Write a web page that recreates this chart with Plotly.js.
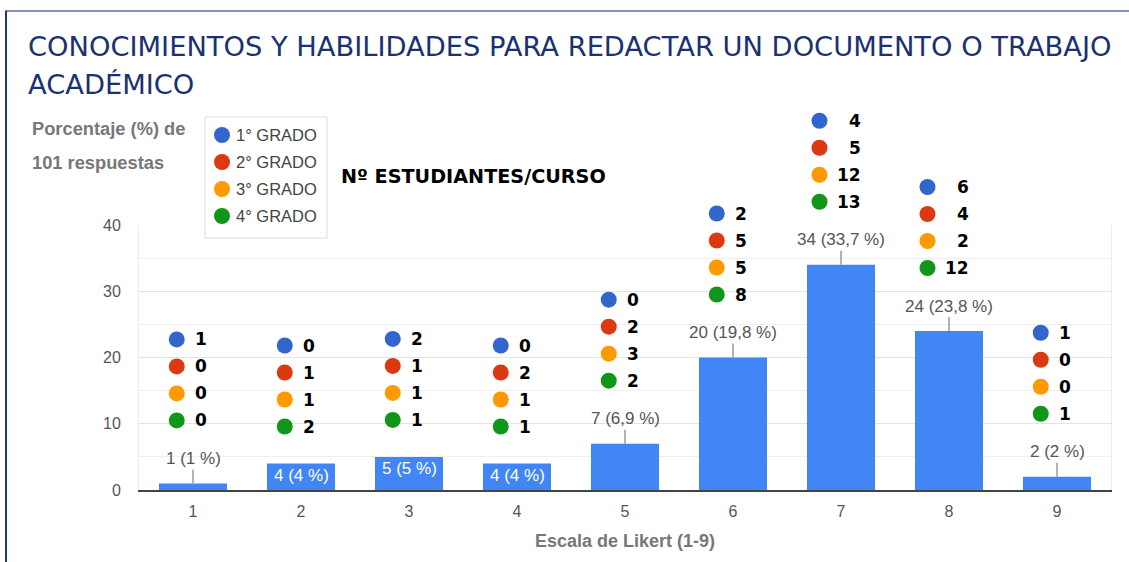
<!DOCTYPE html>
<html>
<head>
<meta charset="utf-8">
<script src="https://cdn.plot.ly/plotly-3.0.1.min.js"></script>
<style>html,body{margin:0;padding:0;background:#fff;}#chart{width:1129px;height:562px;}</style>
</head>
<body>
<div id="chart"></div>
<script>
// ---- data ----
const categories = [1, 2, 3, 4, 5, 6, 7, 8, 9];
const counts = [1, 4, 5, 4, 7, 20, 34, 24, 2];
const percents = [1, 4, 5, 4, 6.9, 19.8, 33.7, 23.8, 2];
const grades = ['1° GRADO', '2° GRADO', '3° GRADO', '4° GRADO'];
const grade1 = [1, 0, 2, 0, 0, 2, 4, 6, 1];
const grade2 = [0, 1, 1, 2, 2, 5, 5, 4, 0];
const grade3 = [0, 1, 1, 1, 3, 5, 12, 2, 0];
const grade4 = [0, 2, 1, 1, 2, 8, 13, 12, 1];
const yTicks = [0, 10, 20, 30, 40];
const titleLines = ['CONOCIMIENTOS Y HABILIDADES PARA REDACTAR UN DOCUMENTO O TRABAJO', 'ACADÉMICO'];
const yTitleLines = ['Porcentaje (%) de', '101 respuestas'];
const xTitle = 'Escala de Likert (1-9)';
const groupTitle = 'Nº ESTUDIANTES/CURSO';

// ---- style ----
const W = 1129, H = 562;
const M = {l: 139, r: 18, t: 11, b: 72};
const PW = W - M.l - M.r, PH = H - M.t - M.b;   // paper area
const BAR_H = 265;                               // pixel height of the bar plot area
const YMAX = 40;
const YMAX2 = YMAX * PH / BAR_H;                 // overlay axis spanning whole paper, same scale
const gradeColors = ['#3366cc', '#dc3912', '#ff9900', '#109618'];
const insideLabel = [false, true, true, true, false, false, false, false, false];
const gradeSeries = [grade1, grade2, grade3, grade4];
const px2x = px => (px - M.l) / PW;          // pixel -> paper x
const px2y = py => (H - M.b - py) / PH;      // pixel -> paper y
const unitX = 9 / PW;                         // data per pixel (x)
const unitY = YMAX / BAR_H;                   // data per pixel (y)
const fmt = v => String(v).replace('.', ',');
const LAB = 'Liberation Sans, Arial, sans-serif';

const traces = [];
traces.push({
  type: 'bar', x: categories, y: counts, width: 0.63,
  marker: {color: '#4285f4'}, hoverinfo: 'skip', showlegend: false
});

const annotations = [];
const shapes = [];

// bar labels
categories.forEach((c, i) => {
  const txt = counts[i] + ' (' + fmt(percents[i]) + ' %)';
  if (insideLabel[i]) {
    annotations.push({x: c, y: counts[i], xref: 'x', yref: 'y', text: txt, showarrow: false,
      yanchor: 'top', yshift: -1, borderpad: 0,
      font: {family: LAB, size: 17, color: '#ffffff'}});
  } else {
    annotations.push({x: c, y: counts[i], xref: 'x', yref: 'y', text: txt, showarrow: true,
      arrowhead: 0, ax: 0, ay: -25, arrowcolor: '#9a9a9a', arrowwidth: 1.5, standoff: 0,
      font: {family: LAB, size: 17, color: '#555555'}});
  }
});

// per-grade dot groups
const dotX = [], dotY = [[], [], [], []];
categories.forEach((c, i) => {
  const vals = gradeSeries.map(s => s[i]);
  const len = Math.max(...vals.map(v => String(v).length));
  const gw = 28 + 10.5 * len;
  const dx = -5 - gw / 2 + 8;                // dot centre offset from bar centre (px)
  const base = insideLabel[i] ? 37 : 63;     // lowest dot above bar top (px)
  dotX.push(c + dx * unitX);
  vals.forEach((v, g) => {
    const dy = base + (3 - g) * 27;
    dotY[g].push(counts[i] + dy * unitY);
    annotations.push({x: c, y: counts[i], xref: 'x', yref: 'y', text: String(v), showarrow: false,
      xanchor: 'right', yanchor: 'middle', xshift: dx + 21 + 10.5 * len, yshift: dy, borderpad: 0,
      font: {family: 'DejaVu Sans', size: 17, color: '#000000', weight: 'bold'}});
  });
});
gradeSeries.forEach((s, g) => {
  traces.push({type: 'scatter', mode: 'markers', x: dotX, y: dotY[g], yaxis: 'y2', cliponaxis: false,
    marker: {color: gradeColors[g], size: 16, line: {width: 0}}, hoverinfo: 'skip', showlegend: false, name: grades[g]});
});

// legend box
shapes.push({type: 'rect', xref: 'paper', yref: 'paper', x0: px2x(205), x1: px2x(327), y0: px2y(238), y1: px2y(117),
  line: {color: '#dddddd', width: 1}, fillcolor: '#ffffff', layer: 'above'});
grades.forEach((gname, g) => {
  const py = 135 + g * 27;
  shapes.push({type: 'circle', xref: 'paper', yref: 'paper', xsizemode: 'pixel', ysizemode: 'pixel',
    xanchor: px2x(222), yanchor: px2y(py), x0: -8, x1: 8, y0: -8, y1: 8,
    fillcolor: gradeColors[g], line: {width: 0}, layer: 'above'});
  annotations.push({xref: 'paper', yref: 'paper', x: px2x(235), y: px2y(py), text: gname, showarrow: false,
    xanchor: 'left', yanchor: 'middle', borderpad: 0,
    font: {family: LAB, size: 16.5, color: '#444444'}});
});

// titles
annotations.push({xref: 'paper', yref: 'paper', x: px2x(27), y: px2y(47), text: titleLines[0], showarrow: false,
  xanchor: 'left', yanchor: 'middle', borderpad: 0, font: {family: 'DejaVu Sans', size: 27.3, color: '#1b3172'}});
annotations.push({xref: 'paper', yref: 'paper', x: px2x(27), y: px2y(84), text: titleLines[1], showarrow: false,
  xanchor: 'left', yanchor: 'middle', borderpad: 0, font: {family: 'DejaVu Sans', size: 27.3, color: '#1b3172'}});
annotations.push({xref: 'paper', yref: 'paper', x: px2x(31), y: px2y(128), text: yTitleLines[0], showarrow: false,
  xanchor: 'left', yanchor: 'middle', borderpad: 0, font: {family: LAB, size: 18.3, color: '#777777', weight: 'bold'}});
annotations.push({xref: 'paper', yref: 'paper', x: px2x(31), y: px2y(162), text: yTitleLines[1], showarrow: false,
  xanchor: 'left', yanchor: 'middle', borderpad: 0, font: {family: LAB, size: 18.3, color: '#777777', weight: 'bold'}});
annotations.push({xref: 'paper', yref: 'paper', x: px2x(340), y: px2y(176), text: groupTitle, showarrow: false,
  xanchor: 'left', yanchor: 'middle', borderpad: 0, font: {family: 'DejaVu Sans', size: 19.2, color: '#000000', weight: 'bold'}});
annotations.push({xref: 'paper', yref: 'paper', x: 0.5, y: px2y(541), text: xTitle, showarrow: false,
  xanchor: 'center', yanchor: 'middle', borderpad: 0, font: {family: LAB, size: 18, color: '#777777', weight: 'bold'}});

// frame lines
shapes.push({type: 'line', xref: 'paper', yref: 'paper', x0: px2x(5), x1: px2x(1129), y0: px2y(11), y1: px2y(11),
  line: {color: '#8792b3', width: 2}});
shapes.push({type: 'line', xref: 'paper', yref: 'paper', x0: px2x(6), x1: px2x(6), y0: px2y(11), y1: px2y(562),
  line: {color: '#1f3778', width: 2}});

const layout = {
  width: W, height: H, margin: M, paper_bgcolor: '#ffffff', plot_bgcolor: 'rgba(0,0,0,0)',
  showlegend: false,
  xaxis: {range: [0.5, 9.5], tickvals: categories, ticktext: categories.map(String), showgrid: false,
    zeroline: false, showline: true, linecolor: '#444444', linewidth: 2,
    ticks: 'outside', ticklen: 6, tickcolor: 'rgba(0,0,0,0)',
    tickfont: {family: LAB, size: 16, color: '#555555'}, fixedrange: true},
  yaxis: {domain: [0, BAR_H / PH], range: [0, YMAX], tickvals: yTicks, showgrid: true, gridcolor: '#e3e3e3', gridwidth: 1,
    minor: {dtick: 5, showgrid: true, gridcolor: '#efefef'},
    zeroline: false, showline: true, linecolor: '#ececec', mirror: true,
    ticks: 'outside', ticklen: 14, tickcolor: 'rgba(0,0,0,0)',
    tickfont: {family: LAB, size: 16, color: '#555555'}, fixedrange: true},
  yaxis2: {domain: [0, 1], range: [0, YMAX2], anchor: 'x', visible: false, showgrid: false, zeroline: false, fixedrange: true},
  annotations: annotations, shapes: shapes
};
Plotly.newPlot('chart', traces, layout, {displayModeBar: false, staticPlot: true});
</script>
</body>
</html>
